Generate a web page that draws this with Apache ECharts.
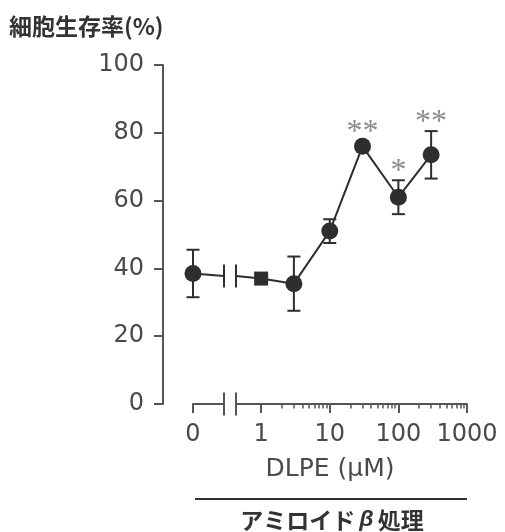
<!DOCTYPE html>
<html><head><meta charset="utf-8">
<script src="https://cdn.jsdelivr.net/npm/echarts@6/dist/echarts.min.js"></script>
<style>html,body{margin:0;padding:0;background:#fff}#c{width:505px;height:532px}</style>
</head><body><div id="c"></div>
<script>
// ---- data ----
const conc = [0, 1, 3, 10, 30, 100, 300];          // DLPE (µM)
const viability = [38.5, 37, 35.5, 51, 76, 61, 73.5]; // 細胞生存率 (%)
const sem = [7, 1.5, 8, 3.5, 1.5, 5, 7];
const sig = ['', '', '', '', '**', '*', '**'];
const yTicks = [0, 20, 40, 60, 80, 100];
const xMajorTicks = [1, 10, 100, 1000];
const xZeroLabel = ['0'];
const titleText = '細胞生存率(%)';
const xName = 'DLPE (μM)';
const treatmentParts = ['アミロイド', 'β', '処理'];

// ---- layout / style ----
const AX = '#555', INK = '#2e2e2e', TXT = '#4a4a4a';
const LOG_MIN = 0.43, LOG_MAX = 1000;
const xMinorTicks = [];
for (let d = 1; d < 1000; d *= 10) for (let k = 2; k <= 9; k++) xMinorTicks.push(k * d);
const mid = (viability[0] + viability[1]) / 2;

const chart = echarts.init(document.getElementById('c'), null, {renderer: 'canvas'});

function errItem(params, api) {
  const x = api.value(0), m = api.value(1), e = api.value(2), idx = api.value(3);
  const t = api.coord([x, m + e]), b = api.coord([x, m - e]);
  const cw = 6.5;
  const st = {stroke: INK, lineWidth: 2};
  const ch = [
    {type: 'line', shape: {x1: t[0], y1: t[1], x2: b[0], y2: b[1]}, style: st},
    {type: 'line', shape: {x1: t[0] - cw, y1: t[1], x2: t[0] + cw, y2: t[1]}, style: st},
    {type: 'line', shape: {x1: b[0] - cw, y1: b[1], x2: b[0] + cw, y2: b[1]}, style: st}
  ];
  if (sig[idx]) ch.push({type: 'text', style: {text: sig[idx], x: t[0], y: t[1] + 7,
    align: 'center', verticalAlign: 'bottom', fontSize: 32, fontFamily: 'Liberation Serif', fill: '#8a8a8a'}});
  return {type: 'group', children: ch};
}
function breakItem(params, api) {
  const p = api.coord([api.value(0), api.value(1)]);
  const a = api.coord([api.value(0), 0]);
  const st = {stroke: INK, lineWidth: 2};
  const h = 11.5;
  return {type: 'group', children: [
    {type: 'line', shape: {x1: p[0], y1: p[1] - h, x2: p[0], y2: p[1] + h}, style: st},
    {type: 'line', shape: {x1: a[0], y1: a[1] - h, x2: a[0], y2: a[1] + h}, style: {stroke: AX, lineWidth: 2}}
  ]};
}

const errData0 = [[conc[0], viability[0], sem[0], 0]];
const errData1 = conc.slice(1).map((c, i) => [c, viability[i + 1], sem[i + 1], i + 1]);
const line1 = [{value: [LOG_MIN, mid], symbol: 'none'}].concat(
  conc.slice(1).map((c, i) => ({value: [c, viability[i + 1]], symbol: c === 1 ? 'rect' : 'circle',
    symbolSize: c === 1 ? 14 : 17})));

const axisLine = {show: true, onZero: false, lineStyle: {color: AX, width: 2}};
const labelStyle = {color: TXT, fontSize: 24, fontFamily: 'DejaVu Sans'};

chart.setOption({
  animation: false,
  title: {text: titleText, left: 4, top: 10,
    textStyle: {fontSize: 23, fontWeight: 'bold', color: '#333', fontFamily: 'Noto Sans CJK JP'}},
  grid: [
    {left: 193, width: 31, top: 65, bottom: 128},
    {left: 236, right: 38, top: 65, bottom: 128}
  ],
  xAxis: [
    {gridIndex: 0, type: 'value', min: 0, max: 1, position: 'bottom', axisLine,
     axisTick: {show: true, customValues: [0], length: 9, lineStyle: {color: AX, width: 2}},
     axisLabel: {...labelStyle, customValues: [0], margin: 19, formatter: () => xZeroLabel[0]},
     splitLine: {show: false}},
    {gridIndex: 1, type: 'log', min: LOG_MIN, max: LOG_MAX, position: 'bottom', axisLine,
     axisTick: {show: true, customValues: xMajorTicks, length: 9, lineStyle: {color: AX, width: 2}},
     axisLabel: {...labelStyle, customValues: xMajorTicks, margin: 19, formatter: v => String(Math.round(v))},
     splitLine: {show: false}, minorTick: {show: false}},
    {gridIndex: 1, type: 'log', min: LOG_MIN, max: LOG_MAX, position: 'bottom', offset: 0,
     axisLine: {show: false, onZero: false},
     axisTick: {show: true, customValues: xMinorTicks, length: 4.5, lineStyle: {color: AX, width: 1.5}},
     axisLabel: {show: false}, splitLine: {show: false}}
  ],
  yAxis: [
    {gridIndex: 0, type: 'value', min: 0, max: 100, interval: 20, offset: 30, axisLine,
     axisTick: {show: true, length: 9, lineStyle: {color: AX, width: 2}},
     axisLabel: {...labelStyle, margin: 19, customValues: yTicks}, splitLine: {show: false}},
    {gridIndex: 1, type: 'value', min: 0, max: 100, show: false}
  ],
  series: [
    {type: 'custom', xAxisIndex: 0, yAxisIndex: 0, renderItem: errItem, data: errData0, z: 3, clip: false},
    {type: 'custom', xAxisIndex: 1, yAxisIndex: 1, renderItem: errItem, data: errData1, z: 3, clip: false},
    {type: 'line', xAxisIndex: 0, yAxisIndex: 0, clip: false, z: 4,
     data: [{value: [conc[0], viability[0]], symbol: 'circle', symbolSize: 17}, {value: [1, mid], symbol: 'none'}],
     lineStyle: {color: INK, width: 2}, itemStyle: {color: INK}},
    {type: 'line', xAxisIndex: 1, yAxisIndex: 1, clip: false, z: 4, data: line1,
     lineStyle: {color: INK, width: 2}, itemStyle: {color: INK}},
    {type: 'custom', xAxisIndex: 0, yAxisIndex: 0, renderItem: breakItem, data: [[1, mid]], z: 5, clip: false},
    {type: 'custom', xAxisIndex: 1, yAxisIndex: 1, renderItem: breakItem, data: [[LOG_MIN, mid]], z: 5, clip: false}
  ],
  graphic: [
    {type: 'text', x: 330, y: 469, style: {text: xName, align: 'center', verticalAlign: 'middle',
      fontSize: 25, fontFamily: 'DejaVu Sans', fill: TXT}},
    {type: 'line', shape: {x1: 195, y1: 499, x2: 467, y2: 499}, style: {stroke: '#333', lineWidth: 2}},
    {type: 'text', x: 332, y: 520, style: {
      text: treatmentParts[0] + '{b|' + treatmentParts[1] + '}' + treatmentParts[2],
      align: 'center', verticalAlign: 'middle', lineHeight: 30,
      fontSize: 23, fontWeight: 'bold', fontFamily: 'Noto Sans CJK JP', fill: '#333',
      rich: {b: {fontSize: 23, lineHeight: 30, fontStyle: 'italic', fontWeight: 'bold', fontFamily: 'Liberation Sans',
        fill: '#333', verticalAlign: 'middle', padding: [0, 4, 0, 4]}}}}
  ]
});
</script></body></html>
